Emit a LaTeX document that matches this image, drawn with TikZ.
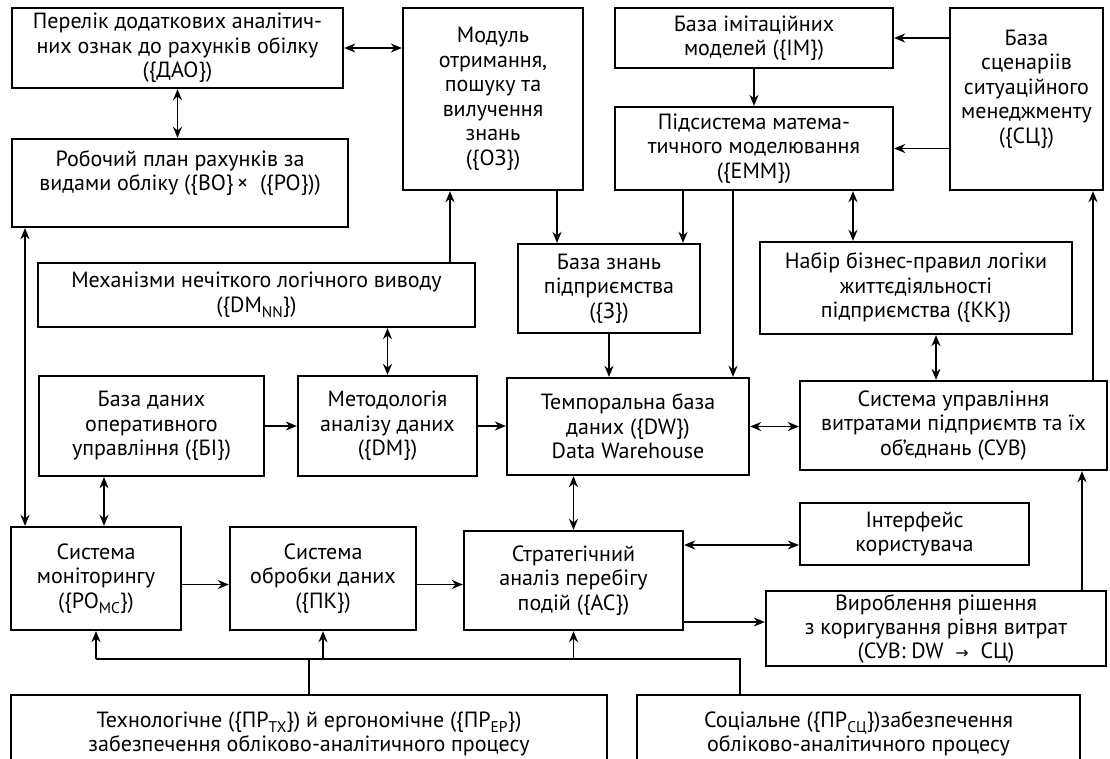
\documentclass[tikz,border=0pt]{standalone}
\usepackage{fontspec}
\setmainfont{PT Sans}
\newfontfamily\arrowfont{DejaVu Sans}
\usetikzlibrary{arrows.meta}
\newcommand{\sbs}[1]{\raisebox{-0.45ex}{\fontsize{15.5}{15.5}\selectfont #1}}
\begin{document}
\begin{tikzpicture}[x=1pt,y=-1pt,
 box/.style={draw, line width=2.3pt, align=center, inner sep=0pt, font=\fontsize{22}{24.5}\selectfont},
 conn/.style={line width=1.7pt, -{Stealth[length=11pt,width=9pt]}},
 biconn/.style={line width=1.7pt, {Stealth[length=11pt,width=9pt]}-{Stealth[length=11pt,width=9pt]}},
 plain/.style={line width=1.7pt}]
\useasboundingbox (0,0) rectangle (1110,758);
\clip (0,0) rectangle (1110,758);
% row 1
\node[box, minimum width=331pt, minimum height=80pt] (dao) at (177.5,48) {Перелік додаткових аналітич-\\них ознак до рахунків обілку\\(\{ДАО\})};
\node[box, minimum width=336pt, minimum height=88pt] (vo) at (180,183) {Робочий план рахунків за\\видами обліку (\{ВО\}\,×\ \ (\{РО\}))\\\mbox{}};
\node[box, minimum width=180pt, minimum height=182pt] (oz) at (493,99) {Модуль\\отримання,\\пошуку та\\вилучення\\знань\\(\{ОЗ\})};
\node[box, minimum width=278pt, minimum height=60pt] (im) at (754,38) {База імітаційних\\моделей (\{IM\})};
\node[box, minimum width=278pt, minimum height=83pt] (emm) at (754,148.5) {Підсистема матема-\\тичного моделювання\\(\{ЕММ\})};
\node[box, minimum width=153pt, minimum height=182pt] (sc) at (1026.5,99) {База\\сценаріів\\ситуаційного\\менеджменту\\(\{СЦ\})\\\mbox{}};
% row 2
\node[box, minimum width=437pt, minimum height=64pt] (mech) at (256.5,295) {Механізми нечіткого логічного виводу\\(\{DM\sbs{NN}\})};
\node[box, minimum width=182pt, minimum height=89pt] (bz) at (609,288.5) {База знань\\підприємства\\(\{З\})};
\node[box, minimum width=312pt, minimum height=92pt] (nabir) at (916,288) {Набір бізнес-правил логіки\\життєдіяльності\\підприємства (\{КК\})};
% row 3
\node[box, minimum width=225pt, minimum height=100pt] (bi) at (151.5,426) {База даних\\оперативного\\управління (\{БІ\})};
\node[box, minimum width=179pt, minimum height=100pt] (metod) at (387.5,426) {Методологія\\аналізу даних\\(\{DM\})};
\node[box, minimum width=242pt, minimum height=97pt] (dw) at (628,426.5) {Темпоральна база\\даних (\{DW\})\\Data Warehouse};
\node[box, minimum width=307pt, minimum height=89pt] (suv) at (953.5,425.5) {Система управління\\витратами підприємтв та їх\\об'єднань (СУВ)};
% row 4
\node[box, minimum width=229pt, minimum height=62pt] (iface) at (914.5,534) {Інтерфейс\\користувача};
\node[box, minimum width=170pt, minimum height=103pt] (mon) at (96,578.5) {Система\\моніторингу\\(\{РО\sbs{МС}\})};
\node[box, minimum width=186pt, minimum height=103pt] (obr) at (323,578.5) {Система\\обробки даних\\(\{ПК\})};
\node[box, minimum width=219pt, minimum height=99pt] (strat) at (573.5,580.5) {Стратегічний\\аналіз перебігу\\подій (\{АС\})};
\node[box, minimum width=340pt, minimum height=75pt, font=\fontsize{22}{24}\selectfont] (vyr) at (936,628.5) {Вироблення рішення\\з коригування рівня витрат\\(СУВ: DW \ {\arrowfont\fontsize{16}{16}\selectfont →}\ \ СЦ)};
% bottom
\node[box, minimum width=596pt, minimum height=78pt] (tech) at (309,734) {Технологічне (\{ПР\sbs{ТХ}\}) й ергономічне (\{ПР\sbs{ЕР}\})\\забезпечення обліково-аналітичного процесу};
\node[box, minimum width=443pt, minimum height=78pt] (soc) at (858.5,734) {Соціальне (\{ПР\sbs{СЦ}\})забезпечення\\обліково-аналітичного процесу};
% connectors
\draw[biconn] (dao.east) -- (dao.east -| oz.west);
\draw[biconn] (dao.south) -- (dao.south |- vo.north);
\draw[conn] (sc.west |- im.east) -- (im.east);
\draw[conn] (sc.west |- emm.east) -- (emm.east);
\draw[conn] (im.south) -- (emm.north);
\draw[conn] ([xshift=74pt]bz.north |- emm.south) -- ([xshift=74pt]bz.north);
\draw[conn] ([xshift=-52pt]bz.north |- oz.south) -- ([xshift=-52pt]bz.north);
\draw[conn] ([xshift=105pt]dw.north |- emm.south) -- ([xshift=105pt]dw.north);
\draw[biconn] ([xshift=-63pt]nabir.north |- emm.south) -- ([xshift=-63pt]nabir.north);
\draw[conn] ([xshift=193.5pt]mech.north) -- ([xshift=193.5pt]mech.north |- oz.south);
\draw[conn] (bz.south) -- (bz.south |- dw.north);
\draw[biconn] ([xshift=20pt]nabir.south) -- ([xshift=20pt]nabir.south |- suv.north);
\draw[conn] ([xshift=66.5pt]sc.south |- suv.north) -- ([xshift=66.5pt]sc.south);
\draw[biconn] ([xshift=-155pt]vo.south) -- ([xshift=-155pt]vo.south |- mon.north);
\draw[biconn] (metod.north |- mech.south) -- (metod.north);
\draw[conn] (bi.east) -- (metod.west);
\draw[conn] (metod.east) -- (metod.east -| dw.west);
\draw[biconn] ([xshift=-47.5pt]bi.south) -- ([xshift=-47.5pt]bi.south |- mon.north);
\draw[biconn] (dw.east) -- (dw.east -| suv.west);
\draw[biconn] (strat.north |- dw.south) -- (strat.north);
\draw[biconn] ([yshift=-11pt]iface.west -| strat.east) -- ([yshift=-11pt]iface.west);
\draw[conn] ([yshift=-6pt]mon.east) -- ([yshift=-6pt]mon.east -| obr.west);
\draw[conn] ([yshift=-6pt]obr.east) -- ([yshift=-6pt]obr.east -| strat.west);
\draw[conn] ([yshift=6.5pt]vyr.west -| strat.east) -- ([yshift=6.5pt]vyr.west);
\draw[conn] ([xshift=146pt]vyr.north) -- ([xshift=146pt]vyr.north |- suv.south);
% bottom bus
\coordinate (busl) at ([yshift=35pt]tech.north -| mon.south);
\draw[plain] (tech.north) -- (tech.north |- busl);
\draw[plain] ([xshift=-118.5pt]soc.north) -- ([xshift=-118.5pt]soc.north |- busl) -- (busl);
\draw[conn] (busl) -- (mon.south);
\draw[conn] (obr.south |- busl) -- (obr.south);
\draw[conn] (strat.south |- busl) -- (strat.south);
\end{tikzpicture}
\end{document}
